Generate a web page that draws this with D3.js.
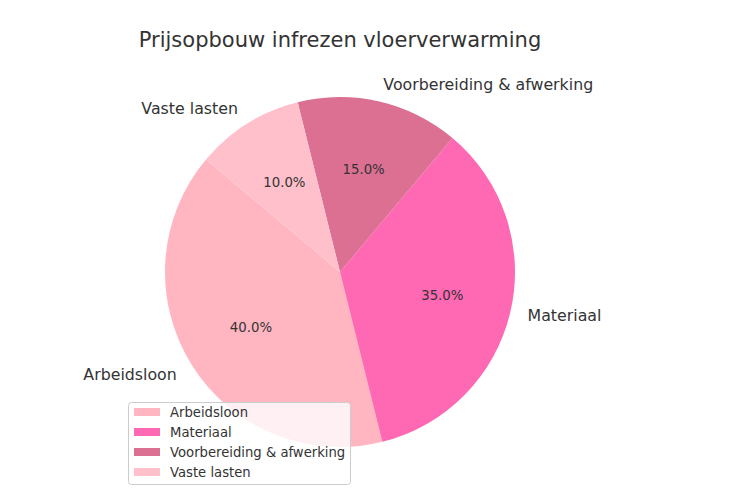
<!DOCTYPE html>
<html><head><meta charset="utf-8">
<script src="https://cdn.jsdelivr.net/npm/d3@7"></script>
<style>body{margin:0;background:#fff}text{font-family:"DejaVu Sans",sans-serif;fill:#333}</style>
</head><body><svg id="c" width="730" height="499"></svg>
<script>
const categories = ["Arbeidsloon","Materiaal","Voorbereiding & afwerking","Vaste lasten"];
const values = [40,35,15,10];
const colors = ["#FFB6C1","#FF69B4","#DB7093","#FFC0CB"];
const title = "Prijsopbouw infrezen vloerverwarming";

const svg = d3.select("#c");
const cx = 340, cy = 272, r = 175;
const rad = d => d*Math.PI/180;
const startDeg = 140;
const pie = d3.pie().sort(null).startAngle(rad(90-startDeg)).endAngle(rad(90-startDeg-360));
const arcs = pie(values);
const arc = d3.arc().innerRadius(0).outerRadius(r);
const g = svg.append("g").attr("transform",`translate(${cx},${cy})`);
g.selectAll("path").data(arcs).join("path").attr("d",arc).attr("fill",(d,i)=>colors[i]);
const total = d3.sum(values);
const mid = d => (d.startAngle+d.endAngle)/2;
g.selectAll("text.pct").data(arcs).join("text").attr("class","pct")
  .attr("x",d=>0.6*r*Math.sin(mid(d))).attr("y",d=>-0.6*r*Math.cos(mid(d)))
  .attr("text-anchor","middle").attr("dominant-baseline","central").style("font-size","13.3px")
  .text(d=>(d.value/total*100).toFixed(1)+"%");
g.selectAll("text.lbl").data(arcs).join("text").attr("class","lbl")
  .attr("x",d=>1.1*r*Math.sin(mid(d))).attr("y",d=>-1.1*r*Math.cos(mid(d)))
  .attr("text-anchor",d=>Math.sin(mid(d))>0?"start":"end").attr("dominant-baseline","central")
  .style("font-size","15.8px").text((d,i)=>categories[i]);
svg.append("text").attr("x",340).attr("y",40).attr("text-anchor","middle").attr("dominant-baseline","central")
  .style("font-size","21px").text(title);
// legend
const lg = svg.append("g").attr("transform","translate(128,402)");
lg.append("rect").attr("x",0.5).attr("y",0.5).attr("width",222).attr("height",82).attr("rx",3)
  .attr("fill","#fff").attr("fill-opacity",0.8).attr("stroke","#ccc");
const ly = d3.scaleBand().domain(categories).range([0,80]);
lg.selectAll("rect.sw").data(categories).join("rect").attr("class","sw")
  .attr("x",6).attr("y",d=>ly(d)+ly.bandwidth()/2-4).attr("width",26).attr("height",8).attr("fill",(d,i)=>colors[i]);
lg.selectAll("text.lt").data(categories).join("text").attr("class","lt")
  .attr("x",42).attr("y",d=>ly(d)+ly.bandwidth()/2).attr("dominant-baseline","central")
  .style("font-size","13.2px").text(d=>d);
</script></body></html>
